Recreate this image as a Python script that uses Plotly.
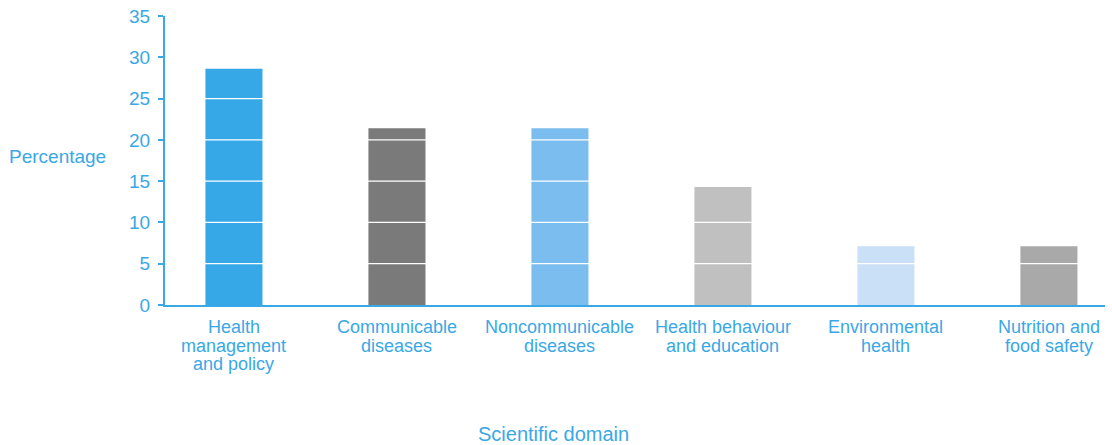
import plotly.graph_objects as go

categories = [
    "Health<br>management<br>and policy",
    "Communicable<br>diseases",
    "Noncommunicable<br>diseases",
    "Health behaviour<br>and education",
    "Environmental<br>health",
    "Nutrition and<br>food safety",
]
percentages = [28.6, 21.4, 21.4, 14.3, 7.1, 7.1]
bar_colors = ["#36A8E8", "#7A7A7A", "#7BBDEF", "#C0C0C0", "#C9E0F6", "#A9A9A9"]
y_ticks = [0, 5, 10, 15, 20, 25, 30, 35]

blue = "#3AA8E6"
font_family = "Liberation Sans, Arial, sans-serif"

fig = go.Figure(
    go.Bar(
        x=categories,
        y=percentages,
        marker=dict(color=bar_colors, line=dict(width=0)),
        width=0.35,
        hoverinfo="y",
    )
)

# white reference lines drawn over the bars at each y tick
for t in y_ticks[1:-1]:
    fig.add_hline(y=t, line=dict(color="white", width=1.2), layer="above")

# category labels, one annotation per line for tight line spacing
annotations = []
for cat in categories:
    for i, line in enumerate(cat.split("<br>")):
        annotations.append(dict(
            text=line, x=cat, xref="x", y=0, yref="paper",
            yanchor="middle", xanchor="center", yshift=-22 - 18.5 * i,
            showarrow=False, font=dict(size=18, color=blue),
        ))

annotations += [
    dict(
        text="Percentage",
        xref="paper", yref="paper",
        x=-0.114, y=0.515,
        xanchor="center", yanchor="middle",
        showarrow=False,
        font=dict(size=19, color=blue),
    ),
    dict(
        text="Scientific domain",
        xref="paper", yref="paper",
        x=0.413, y=-0.445,
        xanchor="center", yanchor="middle",
        showarrow=False,
        font=dict(size=20, color=blue),
    ),
]

fig.update_layout(
    width=1112,
    height=445,
    margin=dict(l=165, r=7, t=16, b=140),
    paper_bgcolor="white",
    plot_bgcolor="white",
    showlegend=False,
    font=dict(family=font_family, color=blue),
    xaxis=dict(
        range=[-0.423, 5.344],
        showline=True,
        linecolor=blue,
        linewidth=2,
        showgrid=False,
        ticks="",
        showticklabels=False,
        fixedrange=True,
    ),
    yaxis=dict(
        range=[0, 35],
        tickvals=y_ticks,
        showline=True,
        linecolor=blue,
        linewidth=2,
        showgrid=False,
        zeroline=False,
        ticks="outside",
        ticklen=5,
        tickwidth=2,
        tickcolor=blue,
        tickfont=dict(size=19, color=blue),
        ticklabelstandoff=4,
        fixedrange=True,
    ),
    annotations=annotations,
)

fig.write_html("out.html")
